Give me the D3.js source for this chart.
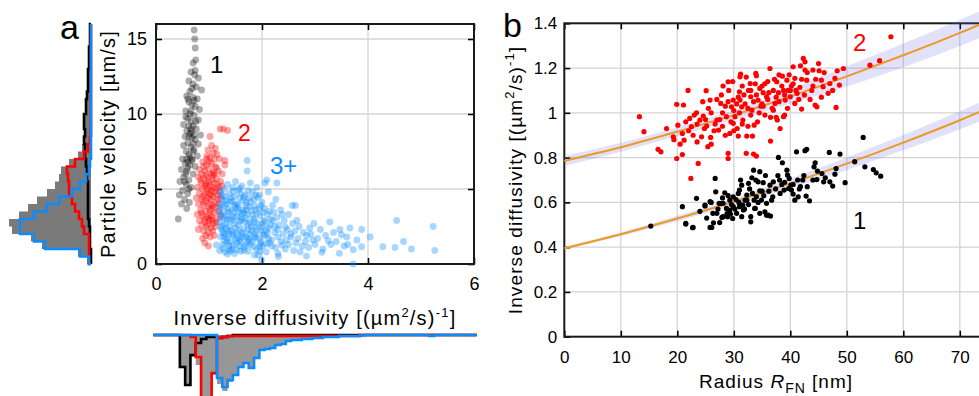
<!DOCTYPE html>
<html>
<head>
<meta charset="utf-8">
<script src="https://cdn.jsdelivr.net/npm/d3@7"></script>
<style>
  html, body { margin: 0; padding: 0; background: #fff; overflow: hidden; }
  svg { display: block; font-family: "Liberation Sans", Arial, sans-serif; }
</style>
</head>
<body>
<svg id="fig" width="979" height="396"></svg>
<script>
// ---------- panel a: velocity vs inverse diffusivity ----------
const aBlack = [[0.72,15.6],[0.73,15.0],[0.74,14.4],[0.70,13.4],[0.75,13.6],[0.66,12.8],[0.73,12.6],[0.80,12.4],[0.62,12.2],[0.70,12.0],
  [0.76,11.8],[0.86,11.6],[0.64,11.5],[0.58,11.2],[0.70,11.1],[0.78,11.0],[0.62,10.8],[0.68,10.6],[0.74,10.5],[0.82,10.3],
  [0.56,10.2],[0.64,10.0],[0.72,9.9],[0.60,9.7],[0.80,9.6],[0.66,9.5],[0.52,9.3],[0.70,9.2],[0.76,9.0],[0.58,8.9],
  [0.64,8.7],[0.84,8.6],[0.55,8.5],[0.68,8.4],[0.74,8.3],[0.60,8.1],[0.80,8.0],[0.52,7.9],[0.66,7.8],[0.72,7.6],
  [0.57,7.5],[0.62,7.3],[0.78,7.2],[0.50,7.0],[0.68,6.9],[0.55,6.7],[0.64,6.6],[0.74,6.5],[0.48,6.3],[0.58,6.2],
  [0.70,6.0],[0.52,5.8],[0.62,5.6],[0.45,5.5],[0.57,5.3],[0.66,5.1],[0.50,4.9],[0.60,4.7],[0.44,4.6],[0.54,4.3],
  [0.63,4.1],[0.48,4.0],[0.58,3.7],[0.42,3.0],[0.66,9.0],[0.62,8.5],[0.70,8.0],[0.58,7.0],[0.64,7.1],[0.60,6.4],
  [0.66,10.2],[0.60,11.0],[0.68,11.7],[0.74,12.9],[0.60,6.8],[0.54,5.5],[0.62,5.0],[0.70,7.5],[0.56,9.8],[0.75,9.5],
  [0.67,8.8],[0.72,10.9],[0.62,9.2],[0.68,7.0],[0.56,6.0],[0.72,8.6]];
const aRed = [[1.02,8.5],[1.21,9.0],[1.27,9.0],[1.35,8.9],[0.92,1.4],[0.99,1.2],[1.05,7.9],[1.12,7.7],[0.98,7.6],[1.08,7.4],
  [1.15,7.3],[0.96,7.2],[1.02,7.1],[1.20,7.0],[1.30,6.6],[1.30,6.9],[0.88,6.8],[0.95,6.6],[1.05,6.7],[1.12,6.5],
  [0.82,6.3],[0.92,6.2],[1.00,6.3],[1.08,6.1],[1.18,6.2],[1.25,6.0],[0.86,6.0],[0.80,5.8],[0.90,5.7],[0.98,5.8],
  [1.06,5.6],[1.14,5.7],[1.22,5.5],[0.85,5.4],[0.94,5.3],[1.02,5.2],[1.10,5.4],[1.18,5.1],[0.78,5.1],[0.88,5.0],
  [0.97,5.0],[1.05,4.9],[1.13,5.0],[1.24,5.2],[0.82,4.7],[0.92,4.6],[1.00,4.7],[1.08,4.5],[1.16,4.6],[1.22,4.4],
  [0.76,4.4],[0.86,4.3],[0.95,4.2],[1.03,4.3],[1.12,4.1],[1.19,4.0],[0.80,4.0],[0.90,3.9],[0.99,3.8],[1.07,3.9],
  [0.84,3.6],[0.94,3.5],[1.02,3.6],[1.10,3.4],[1.18,3.5],[0.78,3.3],[0.88,3.2],[0.97,3.1],[1.05,3.2],[1.14,3.0],
  [1.22,3.2],[0.82,2.9],[0.92,2.8],[1.00,2.9],[1.08,2.7],[0.86,2.6],[0.95,2.5],[1.04,2.4],[1.12,2.5],[0.80,2.3],
  [0.90,2.2],[0.99,2.1],[1.07,2.2],[0.94,1.9],[1.02,1.8],[0.88,1.7],[1.10,1.9],[1.00,5.5],[1.04,6.0],[0.96,4.8],
  [1.10,4.8],[1.14,6.4],[0.90,6.5],[1.06,3.7],[0.98,4.4],[1.08,5.9],[0.94,5.9],[1.16,5.3],[1.02,4.0],[0.88,4.5],
  [1.20,4.8],[1.12,3.8],[1.00,3.3],[0.92,3.0],[1.06,2.9],[0.96,7.0],[1.10,7.0],[1.00,6.8],[0.84,5.6],[1.16,4.3],
  [0.90,4.1],[1.04,4.6],[1.10,6.0],[0.96,5.4],[1.02,3.0],[0.86,3.4],[1.14,2.8],[0.98,2.6],[1.06,5.1],[0.92,5.2]];
const aBlue = [[1.35,5.3],[1.50,5.5],[1.62,5.2],[1.78,5.4],[1.90,5.1],[1.28,5.0],[1.45,5.1],[1.22,4.8],[1.38,4.7],[1.55,4.9],
  [1.68,4.6],[1.82,4.8],[1.95,4.6],[1.30,4.5],[1.48,4.5],[1.74,4.9],[1.25,4.3],[1.40,4.2],[1.58,4.4],[1.70,4.1],
  [1.85,4.3],[2.00,4.1],[1.33,4.0],[1.52,4.0],[1.92,4.45],[1.20,3.8],[1.36,3.7],[1.48,3.9],[1.64,3.6],[1.76,3.8],
  [1.88,3.6],[2.05,3.7],[1.28,3.5],[1.56,3.5],[1.98,3.9],[1.22,3.3],[1.34,3.2],[1.46,3.4],[1.60,3.1],[1.72,3.3],
  [1.84,3.0],[1.96,3.2],[2.10,3.3],[1.40,3.0],[1.66,3.45],[1.28,3.05],[1.20,2.8],[1.32,2.7],[1.44,2.9],[1.56,2.6],
  [1.68,2.8],[1.80,2.5],[1.92,2.7],[2.04,2.9],[2.16,2.6],[1.38,2.5],[1.62,2.95],[1.26,2.55],[1.24,2.3],[1.36,2.2],
  [1.50,2.4],[1.62,2.1],[1.74,2.3],[1.86,2.0],[1.98,2.2],[2.12,2.4],[2.24,2.1],[1.44,2.05],[1.30,2.0],[1.22,1.8],
  [1.34,1.7],[1.46,1.9],[1.58,1.6],[1.70,1.8],[1.82,1.5],[1.94,1.7],[2.06,1.9],[2.18,1.6],[2.30,1.8],[1.40,1.5],
  [1.64,1.95],[1.26,1.3],[1.38,1.2],[1.52,1.4],[1.66,1.1],[1.78,1.3],[1.90,1.0],[2.02,1.2],[2.14,1.4],[2.26,1.1],
  [1.44,1.0],[1.58,1.2],[1.30,0.8],[1.48,0.7],[1.66,0.9],[1.86,0.6],[2.08,0.8],[2.30,0.7],[1.20,0.9],[1.14,1.27],
  [1.35,0.67],[1.93,0.6],[1.99,0.27],[2.31,0.5],[2.20,3.9],[2.35,3.6],[2.50,3.3],[2.28,3.1],[2.42,2.9],[2.58,2.7],
  [2.70,2.5],[2.32,2.6],[2.48,2.3],[2.62,2.2],[2.78,2.1],[2.90,2.4],[2.40,2.0],[2.55,1.8],[2.68,1.7],[2.84,1.9],
  [2.96,1.6],[2.36,1.5],[2.50,1.3],[2.64,1.4],[2.76,1.2],[2.88,1.1],[3.00,1.3],[2.44,1.0],[2.60,0.9],[2.72,0.8],
  [2.20,2.9],[2.14,3.5],[2.26,4.3],[2.12,4.8],[2.06,5.4],[1.72,6.2],[1.72,6.9],[2.09,5.6],[2.28,5.4],[2.57,3.9],
  [2.63,3.9],[2.54,2.0],[2.46,1.6],[2.82,1.5],[2.30,2.3],[2.66,2.9],[2.38,3.3],[2.92,2.0],[2.98,2.7],[3.28,2.8],
  [3.10,2.3],[3.20,1.9],[3.35,2.1],[3.47,2.3],[3.40,1.5],[3.55,1.2],[3.66,2.4],[3.60,1.8],[3.79,1.6],[3.88,2.3],
  [3.88,1.15],[3.72,0.95],[3.15,1.0],[3.30,1.3],[3.13,0.78],[3.46,0.71],[2.84,0.53],[3.72,0.0],[3.05,1.7],[3.50,1.95],
  [3.25,1.55],[3.62,1.3],[4.04,1.8],[4.28,1.15],[4.51,1.1],[4.54,2.9],[4.67,1.5],[4.82,1.0],[5.23,2.5],[5.26,0.9],
  [1.42,4.4],[1.60,4.7],[1.54,3.7],[1.70,3.9],[1.42,3.55],[1.80,3.55],[1.52,3.15],[1.90,3.35],[1.48,2.7],[1.74,2.65],
  [1.86,2.85],[1.56,2.25],[1.80,2.2],[1.54,1.75],[1.76,1.6],[1.88,1.85],[1.34,1.45],[1.72,1.45],[1.96,1.35],[1.60,0.85],
  [2.00,2.45],[2.10,2.05],[2.18,1.2],[2.38,1.25],[2.44,2.45],[2.22,3.45],[1.64,4.25],[1.30,3.9],[1.26,2.1],[1.38,1.0],
  [1.24,4.6],[1.32,4.25],[1.46,4.85],[1.58,5.05],[1.66,4.45],[1.78,4.15],[1.88,4.6],[1.24,3.95],[1.36,3.45],[1.50,3.75],
  [1.62,3.35],[1.70,3.6],[1.82,3.25],[1.94,3.7],[2.02,3.45],[1.24,3.15],[1.34,2.95],[1.46,3.15],[1.58,2.85],[1.70,3.05],
  [1.78,2.75],[1.88,2.45],[2.00,2.65],[2.08,2.25],[1.22,2.45],[1.32,2.35],[1.42,2.25],[1.52,2.05],[1.66,2.35],[1.76,2.0],
  [1.90,2.25],[2.02,1.95],[1.28,1.85],[1.38,1.95],[1.50,1.65],[1.62,1.8],[1.74,1.7],[1.86,1.75],[1.98,1.5],[2.12,1.7],
  [1.30,1.55],[1.46,1.25],[1.60,1.45],[1.70,1.25],[1.84,1.15],[1.96,1.15],[2.08,1.35],[1.52,0.95],[1.74,0.85],[1.96,0.85],
  [1.26,1.05],[1.40,0.85],[1.56,3.95],[1.44,4.15],[1.76,4.4],[1.86,3.9],[2.16,3.0],[2.24,2.5],[2.06,2.8],[1.20,3.6]];

// velocity histogram (left), bins of 0.5 um/s from 0 to 16
const velBinWidth = 0.5;
const velHistBlack = [0,0,1,1,1,2,3,3,3,3,3,4,4,5,6,6,7,6,7,7,5,5,4,3,3,3,2,2,2,1,1,1];
const velHistRed   = [2,2,2,2,7,9,12,16,19,22,22,23,24,16,7,3,1,0,0,0,0,0,0,0,0,0,0,0,0,0,0,0];
const velHistBlue  = [2,11,46,57,71,71,57,44,32,19,11,5,2,1,0,0,0,0,0,0,0,0,0,0,0,0,0,0,0,0,0,0];

// inverse diffusivity histogram (bottom), bins 0.1 wide centred on 0, 0.1 ... 6
const invBinWidth = 0.1;
const invHistBlack = [0,0,0,0,0,32,50,20,8,4,2,2,3,2,1,
  0,0,0,0,0,0,0,0,0,0,0,0,0,0,0,0,0,0,0,0,0,0,0,0,0,0,0,0,0,0,0,0,0,0,0,0,0,0,0,0,0,0,0,0,0,0];
const invHistRed = [0,0,0,0,0,0,0,2,22,80,80,38,3,2,
  1,1,1,1,1,1,1,1,1,1,1,1,1,1,1,1,1,1,1,1,1,1,1,1,1,
  0,0,0,0,0,0,0,0,0,0,0,0,0,0,0,0,0,0,0,0,0,0];
const invHistBlue = [0,0,0,0,0,0,0,0,0,0,0,0,
  43,52,45,40,32,28,33,23,15,14,13,10,9,6,5,5,4,4,3,3,2,2,2,1,1,1,1,0.5,
  0,0,0,0,0,0,0,0,0,0,0,0,1,0,0,0,0,0,0,0,0];

// ---------- panel b: inverse diffusivity vs radius ----------
const bRed = [[13.3,0.983],[14.1,0.916],[16.6,0.837],[17.1,0.826],[18.1,0.93],[19.9,1.038],[21.1,1.035],[19.3,0.893],[19.4,0.88],[20.1,0.945],
  [20.9,0.908],[21.2,0.878],[19.9,0.796],[20.9,0.814],[21.9,1.10],[22.2,0.975],[22.5,0.938],[23.0,0.99],[22.8,0.90],[23.7,0.774],
  [22.4,0.707],[24.0,0.968],[24.3,0.893],[24.6,0.986],[25.1,1.099],[25.2,0.941],[25.5,1.02],[25.4,0.849],[25.8,1.057],[25.9,0.89],
  [26.7,0.95],[27.0,0.968],[27.3,0.923],[27.7,1.042],[28.1,1.12],[28.7,0.983],[29.1,1.10],[29.0,1.139],[29.3,0.908],[29.0,0.796],
  [29.0,0.819],[29.6,1.027],[29.9,0.953],[29.9,1.057],[30.2,0.983],[30.6,0.93],[31.1,1.161],[31.2,1.173],[31.0,1.094],[31.1,1.057],
  [31.4,1.027],[31.6,0.968],[30.8,0.896],[32.3,0.896],[33.3,0.896],[32.2,0.819],[33.5,0.816],[34.0,0.807],[32.6,1.10],[32.9,1.131],
  [33.0,1.072],[33.2,1.012],[33.6,0.945],[33.9,1.176],[34.0,1.166],[34.3,1.057],[34.6,1.109],[35.2,1.03],[35.5,0.99],[35.8,1.072],
  [36.4,1.198],[36.5,0.874],[37.0,1.012],[37.3,1.042],[37.6,1.139],[37.7,0.968],[37.9,1.09],[38.2,0.93],[38.6,1.164],[38.8,0.983],
  [39.1,1.057],[39.4,1.146],[39.6,1.10],[40.0,1.072],[40.2,1.12],[40.5,1.206],[40.8,1.154],[40.8,1.042],[41.2,1.087],[41.7,1.114],
  [42.0,1.017],[42.3,1.243],[42.6,1.228],[42.6,1.191],[42.9,1.146],[43.8,1.10],[44.0,1.191],[44.4,1.035],[44.7,1.027],[45.1,1.188],
  [45.5,1.146],[45.8,1.117],[46.7,1.087],[47.0,1.131],[47.9,1.154],[48.1,1.024],[48.3,1.188],[48.7,1.124],[49.4,1.198],[54.1,1.213],
  [55.8,1.233],[57.8,1.34],[33.5,1.05],[34.8,1.03],[36.0,1.06],[35.2,1.09],[38.0,1.05],[39.0,1.08],[41.5,1.06],[37.0,1.10],
  [32.0,1.04],[31.0,1.00],[30.0,1.01],[28.5,1.03],[27.5,0.97],[26.0,1.00],[33.0,0.99],[36.8,1.02],[35.5,1.13],[40.0,1.10],
  [42.0,1.15],[44.0,1.12],[38.5,1.12],[34.0,1.08],[29.5,0.96],[31.8,1.08],[37.5,0.98],[28.0,0.94],[24.8,0.93],[23.4,1.00],
  [22.0,0.92],[23.5,0.95],[24.5,1.05],[26.5,0.92],[27.0,1.06],[28.0,1.00],[29.0,1.05],[30.5,1.04],[31.5,0.95],[32.5,1.02],
  [33.0,1.10],[34.5,1.00],[35.0,1.12],[36.0,1.14],[36.5,0.98],[37.5,1.07],[38.0,1.17],[39.5,1.02],[40.5,1.13],[41.0,1.10],
  [42.5,1.08],[43.0,1.18],[44.5,1.15],[45.5,1.07],[46.0,1.18],[47.5,1.10],[30.0,0.92],[28.5,0.90],[26.0,0.86],[32.5,0.94],
  [35.0,1.04],[33.8,1.13],[37.2,1.15],[39.8,1.17],[41.8,1.21],[31.5,1.12],[29.8,1.14],[27.8,1.08],[25.0,0.97],[23.5,0.87],
  [21.5,0.96],[20.5,0.86],[34.2,0.96],[36.2,1.09],[38.8,1.10],[43.5,1.06],[45.0,1.22],[39.0,0.99],[30.8,1.07],[32.2,1.16]];
const bBlack = [[15.3,0.494],[20.9,0.581],[21.5,0.503],[22.8,0.488],[23.4,0.618],[24.9,0.584],[25.8,0.603],[26.1,0.488],[26.4,0.509],[26.7,0.707],
  [26.8,0.647],[27.0,0.551],[27.4,0.596],[27.9,0.533],[28.1,0.596],[28.4,0.643],[28.7,0.573],[28.9,0.536],[29.3,0.61],[29.4,0.548],
  [29.8,0.528],[29.9,0.581],[30.4,0.613],[30.5,0.551],[31.0,0.655],[31.4,0.677],[31.6,0.588],[31.7,0.566],[32.0,0.61],[32.3,0.633],
  [32.6,0.685],[33.0,0.536],[33.5,0.744],[33.6,0.61],[33.8,0.573],[33.9,0.70],[34.0,0.625],[34.3,0.692],[34.6,0.737],[34.6,0.652],
  [34.9,0.61],[35.2,0.688],[35.5,0.558],[35.8,0.596],[36.1,0.543],[36.4,0.677],[36.5,0.539],[36.9,0.625],[37.0,0.692],[37.9,0.801],
  [38.1,0.70],[38.6,0.777],[38.9,0.655],[39.4,0.744],[39.5,0.722],[39.7,0.662],[39.8,0.707],[40.1,0.677],[40.2,0.655],[40.5,0.637],
  [40.8,0.61],[41.1,0.826],[41.3,0.70],[41.4,0.625],[41.8,0.67],[42.2,0.70],[42.6,0.831],[42.9,0.837],[42.8,0.628],[43.4,0.607],
  [44.0,0.70],[44.2,0.759],[44.4,0.777],[44.7,0.702],[45.6,0.729],[45.9,0.692],[46.9,0.823],[47.0,0.692],[47.5,0.673],[47.9,0.726],
  [48.1,0.751],[48.8,0.816],[49.7,0.688],[51.4,0.782],[52.9,0.89],[53.2,0.759],[54.7,0.747],[55.2,0.732],[56.0,0.717],[21.5,0.506],
  [22.7,0.487],[24.9,0.588],[25.8,0.488],[26.3,0.551],[27.6,0.595],[28.1,0.536],[29.3,0.566],[29.9,0.625],[31.0,0.581],[31.4,0.536],
  [32.3,0.61],[33.0,0.513],[33.7,0.573],[34.6,0.551],[35.8,0.543],[36.7,0.61],[30.8,0.64],[32.8,0.66],[35.0,0.65],[38.5,0.68],
  [24.0,0.56],[25.2,0.53],[26.0,0.60],[27.2,0.57],[28.0,0.62],[28.8,0.55],[29.6,0.59],[30.2,0.57],[30.9,0.60],[31.9,0.57],
  [32.6,0.59],[33.3,0.64],[34.3,0.60],[35.3,0.63],[36.2,0.65],[37.4,0.66],[38.2,0.64],[39.0,0.69],[40.5,0.68],[41.6,0.66],
  [43.0,0.67],[44.8,0.74],[46.2,0.71],[33.2,0.71],[35.6,0.72],[37.8,0.72],[31.2,0.70],[29.0,0.63],[27.5,0.51],[42.4,0.72]];

// fitted curves and their confidence half-widths, read at these radii
const fitRadius = [0, 10, 20, 30, 40, 50, 60, 70, 80];
const fitOne = [0.395, 0.458, 0.528, 0.603, 0.685, 0.773, 0.867, 0.967, 1.074];
const fitTwo = [0.785, 0.846, 0.916, 0.990, 1.073, 1.163, 1.257, 1.357, 1.465];
const bandOne = [0.006, 0.008, 0.012, 0.016, 0.022, 0.028, 0.034, 0.040, 0.046];
const bandTwo = [0.022, 0.020, 0.020, 0.022, 0.032, 0.045, 0.053, 0.058, 0.062];

// tick labels
const aXTicks = [0, 2, 4, 6];
const aYTicks = [0, 5, 10, 15];
const bXTicks = [0, 10, 20, 30, 40, 50, 60, 70];
const bYTicks = [0, 0.2, 0.4, 0.6, 0.8, 1, 1.2, 1.4];

const cBlue = "#0a8cff", cRed = "#ff0000", cBlack = "#000000";
const fmt = d => String(+d.toFixed(1));

const svg = d3.select("#fig");

// ================= panel a =================
const xA = d3.scaleLinear().domain([0, 6]).range([156, 474]);
const yA = d3.scaleLinear().domain([0, 16]).range([264, 24]);

const gA = svg.append("g");

// grid
gA.append("g").selectAll("line").data(aXTicks.slice(1, -1)).join("line")
  .attr("x1", d => xA(d)).attr("x2", d => xA(d)).attr("y1", yA(0)).attr("y2", yA(16))
  .attr("stroke", "#d4d4d4").attr("stroke-width", 1.3);
gA.append("g").selectAll("line").data(aYTicks.slice(1)).join("line")
  .attr("x1", xA(0)).attr("x2", xA(6)).attr("y1", d => yA(d)).attr("y2", d => yA(d))
  .attr("stroke", "#d4d4d4").attr("stroke-width", 1.3);

// axes (inward ticks on all four sides)
function styleAxis(g, size) {
  g.attr("font-family", null).attr("font-size", size);
  g.select(".domain").remove();
  g.selectAll(".tick line").attr("stroke-width", 1.6);
}
gA.append("g").attr("transform", `translate(0,${yA(0)})`)
  .call(d3.axisBottom(xA).tickValues(aXTicks).tickFormat(fmt).tickSizeInner(-6).tickSizeOuter(0).tickPadding(13))
  .call(g => styleAxis(g, 18));
gA.append("g").attr("transform", `translate(${xA(0)},0)`)
  .call(d3.axisLeft(yA).tickValues(aYTicks).tickFormat(fmt).tickSizeInner(-6).tickSizeOuter(0).tickPadding(9))
  .call(g => styleAxis(g, 18));
gA.append("g").attr("transform", `translate(0,${yA(16)})`)
  .call(d3.axisTop(xA).tickValues(aXTicks).tickSizeInner(-6).tickSizeOuter(0).tickFormat(""))
  .call(g => styleAxis(g, 18));
gA.append("g").attr("transform", `translate(${xA(6)},0)`)
  .call(d3.axisRight(yA).tickValues(aYTicks).tickSizeInner(-6).tickSizeOuter(0).tickFormat(""))
  .call(g => styleAxis(g, 18));
gA.append("rect").attr("x", xA(0)).attr("y", yA(16))
  .attr("width", xA(6) - xA(0)).attr("height", yA(0) - yA(16))
  .attr("fill", "none").attr("stroke", "#1a1a1a").attr("stroke-width", 2);

// scatter
function dotsA(data, color, op) {
  gA.append("g").selectAll("circle").data(data).join("circle")
    .attr("cx", d => xA(d[0])).attr("cy", d => yA(d[1])).attr("r", 3.4)
    .attr("fill", color).attr("fill-opacity", op);
}
dotsA(aBlack, cBlack, 0.33);
dotsA(aRed, cRed, 0.36);
dotsA(aBlue, cBlue, 0.36);

gA.append("text").attr("x", 210).attr("y", 73).attr("font-size", 24).attr("fill", cBlack).text("1");
gA.append("text").attr("x", 238).attr("y", 141).attr("font-size", 23).attr("fill", cRed).text("2");
gA.append("text").attr("x", 270).attr("y", 174).attr("font-size", 24).attr("fill", cBlue).text("3+");

// axis labels
const labA = gA.append("text").attr("x", (xA(0) + xA(6)) / 2).attr("y", 325)
  .attr("text-anchor", "middle").attr("font-size", 20).attr("letter-spacing", 1.2);
labA.append("tspan").text("Inverse diffusivity [(µm");
labA.append("tspan").attr("font-size", 13).attr("dy", -8).text("2");
labA.append("tspan").attr("dy", 8).text("/s)");
labA.append("tspan").attr("font-size", 13).attr("dy", -8).text("-1");
labA.append("tspan").attr("dy", 8).text("]");

gA.append("text").attr("transform", `translate(115,${(yA(0) + yA(16)) / 2}) rotate(-90)`)
  .attr("text-anchor", "middle").attr("font-size", 20).attr("letter-spacing", 1.2)
  .text("Particle velocity [µm/s]");

svg.append("text").attr("x", 60).attr("y", 39).attr("font-size", 34).text("a");

// ---- left histogram of velocity ----
const hxL = d3.scaleLinear().domain([0, 82]).range([91, 9]);
function velSteps(counts) {
  const pts = [[hxL(0), yA(0)]];
  counts.forEach((c, i) => {
    pts.push([hxL(c), yA(i * velBinWidth)]);
    pts.push([hxL(c), yA((i + 1) * velBinWidth)]);
  });
  pts.push([hxL(0), yA(counts.length * velBinWidth)]);
  return pts;
}
const velTotal = velHistBlack.map((c, i) => c + velHistRed[i] + velHistBlue[i]);
const lineL = d3.line();
svg.append("path").attr("d", lineL(velSteps(velTotal)) + "Z").attr("fill", "#7a7a7a");
[[velHistBlack, cBlack], [velHistRed, cRed], [velHistBlue, cBlue]].forEach(([h, c]) => {
  svg.append("path").attr("d", lineL(velSteps(h))).attr("fill", "none")
    .attr("stroke", c).attr("stroke-width", 2.6).attr("stroke-linejoin", "miter");
});

// ---- bottom histogram of inverse diffusivity ----
const hyB = d3.scaleLinear().domain([0, 80]).range([335, 415]);
function invSteps(counts) {
  const x0 = -invBinWidth / 2;
  const pts = [[xA(x0), hyB(0)]];
  counts.forEach((c, i) => {
    pts.push([xA(x0 + i * invBinWidth), hyB(c)]);
    pts.push([xA(x0 + (i + 1) * invBinWidth), hyB(c)]);
  });
  pts.push([xA(x0 + counts.length * invBinWidth), hyB(0)]);
  return pts;
}
const invTotal = invHistBlack.map((c, i) => c + invHistRed[i] + invHistBlue[i]);
svg.append("path").attr("d", lineL(invSteps(invTotal)) + "Z").attr("fill", "#979797");
[[invHistBlack, cBlack], [invHistRed, cRed], [invHistBlue, cBlue]].forEach(([h, c]) => {
  svg.append("path").attr("d", lineL(invSteps(h))).attr("fill", "none")
    .attr("stroke", c).attr("stroke-width", 2.6);
});

// ================= panel b =================
const xB = d3.scaleLinear().domain([0, 80]).range([564.3, 1016.3]);
const yB = d3.scaleLinear().domain([0, 1.4]).range([336.7, 23.3]);
const gB = svg.append("g");

gB.append("g").selectAll("line").data(bXTicks.slice(1)).join("line")
  .attr("x1", d => xB(d)).attr("x2", d => xB(d)).attr("y1", yB(0)).attr("y2", yB(1.4))
  .attr("stroke", "#d4d4d4").attr("stroke-width", 1.3);
gB.append("g").selectAll("line").data(bYTicks.slice(1)).join("line")
  .attr("x1", xB(0)).attr("x2", xB(80)).attr("y1", d => yB(d)).attr("y2", d => yB(d))
  .attr("stroke", "#d4d4d4").attr("stroke-width", 1.3);

gB.append("g").attr("transform", `translate(0,${yB(0)})`)
  .call(d3.axisBottom(xB).tickValues(bXTicks).tickFormat(fmt).tickSizeInner(-6).tickSizeOuter(0).tickPadding(14))
  .call(g => styleAxis(g, 17));
gB.append("g").attr("transform", `translate(${xB(0)},0)`)
  .call(d3.axisLeft(yB).tickValues(bYTicks).tickFormat(fmt).tickSizeInner(-6).tickSizeOuter(0).tickPadding(7))
  .call(g => styleAxis(g, 17));
gB.append("g").attr("transform", `translate(0,${yB(1.4)})`)
  .call(d3.axisTop(xB).tickValues(bXTicks).tickSizeInner(-6).tickSizeOuter(0).tickFormat(""))
  .call(g => styleAxis(g, 17));
gB.append("rect").attr("x", xB(0)).attr("y", yB(1.4))
  .attr("width", xB(80) - xB(0)).attr("height", yB(0) - yB(1.4))
  .attr("fill", "none").attr("stroke", "#1a1a1a").attr("stroke-width", 2);

// confidence bands and fits
const area = d3.area().curve(d3.curveNatural)
  .x(d => xB(d.r)).y0(d => yB(d.v - d.h)).y1(d => yB(d.v + d.h));
const fitLine = d3.line().curve(d3.curveNatural).x(d => xB(d.r)).y(d => yB(d.v));
[[fitOne, bandOne], [fitTwo, bandTwo]].forEach(([f, b]) => {
  const rows = fitRadius.map((r, i) => ({ r, v: f[i], h: b[i] }));
  gB.append("path").attr("d", area(rows)).attr("fill", "#6a6ae6").attr("fill-opacity", 0.2);
  gB.append("path").attr("d", fitLine(rows)).attr("fill", "none")
    .attr("stroke", "#ec9a25").attr("stroke-width", 2);
});

function dotsB(data, color) {
  gB.append("g").selectAll("circle").data(data).join("circle")
    .attr("cx", d => xB(d[0])).attr("cy", d => yB(d[1])).attr("r", 2.6).attr("fill", color);
}
dotsB(bRed, cRed);
dotsB(bBlack, cBlack);

gB.append("text").attr("x", 853).attr("y", 51).attr("font-size", 24).attr("fill", cRed).text("2");
gB.append("text").attr("x", 853).attr("y", 229).attr("font-size", 24).attr("fill", cBlack).text("1");

const labBx = gB.append("text").attr("x", 776).attr("y", 388)
  .attr("text-anchor", "middle").attr("font-size", 19).attr("letter-spacing", 1);
labBx.append("tspan").text("Radius ");
labBx.append("tspan").attr("font-style", "italic").text("R");
labBx.append("tspan").attr("font-size", 14).attr("dy", 5).text("FN");
labBx.append("tspan").attr("dy", -5).text(" [nm]");

const labBy = gB.append("text").attr("transform", `translate(522,${(yB(0) + yB(1.4)) / 2}) rotate(-90)`)
  .attr("text-anchor", "middle").attr("font-size", 19).attr("letter-spacing", 1.1);
labBy.append("tspan").text("Inverse diffusivity [(µm");
labBy.append("tspan").attr("font-size", 13).attr("dy", -8).text("2");
labBy.append("tspan").attr("dy", 8).text("/s)");
labBy.append("tspan").attr("font-size", 13).attr("dy", -8).text("-1");
labBy.append("tspan").attr("dy", 8).text("]");

svg.append("text").attr("x", 503).attr("y", 37).attr("font-size", 34).text("b");
</script>
</body>
</html>
